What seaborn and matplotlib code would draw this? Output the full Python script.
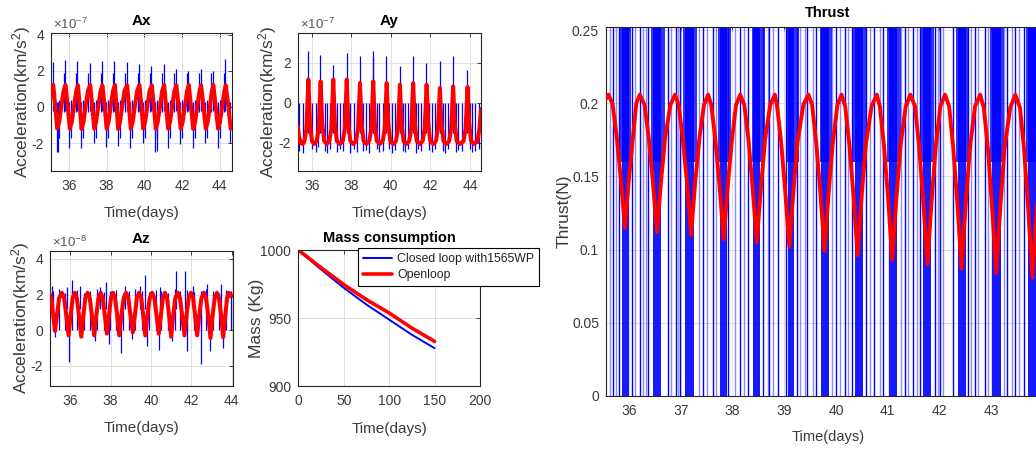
import numpy as np
import pandas as pd
import matplotlib
matplotlib.use("Agg")
import matplotlib.pyplot as plt
import seaborn as sns
from matplotlib import font_manager

# ============================ DATA ============================
# ---- Ax (units 1e-7 km/s^2) ----
ax_red_t = [35.05, 35.10, 35.17, 35.27, 35.38, 35.48, 35.60, 35.72,
            35.82, 35.93, 36.05, 36.15, 36.27, 36.39,
            36.48, 36.57, 36.67, 36.77, 36.89, 37.01,
            37.13, 37.23, 37.34, 37.44, 37.56, 37.68,
            37.78, 37.89, 38.00, 38.10, 38.22, 38.34,
            38.44, 38.52, 38.61, 38.71, 38.83, 38.95,
            39.09, 39.18, 39.28, 39.38, 39.50, 39.62,
            39.74, 39.84, 39.94, 40.04, 40.16, 40.28,
            40.40, 40.50, 40.61, 40.71, 40.83, 40.95,
            41.05, 41.15, 41.26, 41.36, 41.48, 41.60,
            41.70, 41.81, 41.93, 42.03, 42.15, 42.27,
            42.36, 42.47, 42.59, 42.69, 42.81, 42.93,
            43.01, 43.13, 43.26, 43.36, 43.48, 43.57,
            43.66, 43.78, 43.91, 44.01, 44.13, 44.25,
            44.32, 44.45, 44.58, 44.65]
ax_red_v = [0.55, 0.95, 1.22, 0.10, -1.20, -0.85, 0.05, 0.90,
            1.22, 0.10, -1.20, -0.85, 0.05, 0.90,
            1.20, 0.10, -1.22, -0.85, 0.05, 0.90,
            1.22, 0.10, -1.20, -0.85, 0.05, 0.90,
            1.20, 0.10, -1.20, -0.85, 0.05, 0.90,
            1.22, 0.10, -1.22, -0.85, 0.05, 0.90,
            1.20, 0.10, -1.20, -0.85, 0.05, 0.90,
            1.22, 0.10, -1.20, -0.85, 0.05, 0.90,
            1.20, 0.10, -1.22, -0.85, 0.05, 0.90,
            1.22, 0.10, -1.20, -0.85, 0.05, 0.90,
            1.20, 0.10, -1.20, -0.85, 0.05, 0.90,
            1.22, 0.10, -1.22, -0.85, 0.05, 0.90,
            1.20, 0.10, -1.20, -0.85, 0.05, 0.80,
            1.22, 0.10, -1.20, -0.85, 0.05, 0.90,
            1.20, 0.10, -1.20, -1.00]
ax_blue_t = [35.14, 35.79, 36.45, 37.10, 37.75, 38.41, 39.06, 39.71, 40.37, 41.02,
             41.67, 42.33, 42.98, 43.63, 44.29,
             35.36, 35.42, 36.03, 36.65, 37.32, 37.98, 38.59, 39.26, 39.92, 40.59,
             40.65, 41.24, 41.91, 42.57, 43.24, 43.89, 44.56,
             35.46, 36.13, 36.75, 37.42, 38.08, 38.69, 39.36, 40.02, 40.69, 41.34,
             42.01, 42.67, 43.34, 43.99,
             35.72, 36.38, 37.03, 37.68, 38.34, 38.99, 39.64, 40.30, 40.95, 41.60,
             42.26, 42.91, 43.56, 44.22]
ax_blue_lo = [-0.2] * 15 + \
             [-2.5, -2.5, -2.25, -2.3, -2.0, -2.2, -2.15, -2.25, -2.0, -2.5,
              -2.45, -2.25, -2.05, -2.3, -2.0, -2.25, -2.0] + \
             [-1.7] * 14 + [-0.3] * 14
ax_blue_hi = [2.5, 2.6, 2.55, 2.45, 2.55, 2.55, 2.5, 2.4, 2.25, 2.4, 2.1, 2.0, 2.1, 2.0, 2.65] + \
             [0.3] * 17 + [0.4] * 14 + [1.9] * 14

# ---- Ay (units 1e-7 km/s^2) ----
ay_red_t = [35.29, 35.36, 35.45, 35.55, 35.63, 35.73,
            35.83, 35.91, 36.01, 36.12, 36.25, 36.35,
            36.45, 36.53, 36.63, 36.76, 36.89, 36.99,
            37.09, 37.17, 37.27, 37.43, 37.57, 37.67,
            37.77, 37.85, 37.95, 38.10, 38.24, 38.34,
            38.44, 38.52, 38.62, 38.77, 38.91, 39.01,
            39.11, 39.19, 39.29, 39.45, 39.59, 39.69,
            39.79, 39.87, 39.97, 40.12, 40.26, 40.36,
            40.46, 40.54, 40.64, 40.79, 40.93, 41.03,
            41.13, 41.21, 41.31, 41.47, 41.61, 41.71,
            41.81, 41.89, 41.99, 42.14, 42.28, 42.38,
            42.48, 42.56, 42.66, 42.81, 42.95, 43.05,
            43.15, 43.23, 43.33, 43.50, 43.68, 43.78,
            43.88, 43.96, 44.06, 44.22, 44.38, 44.48, 44.56]
ay_red_v = [-1.15, -1.7, -2.0, -2.05, -1.9, -1.3,
            1.17, -1.0, -1.9, -2.05, -1.9, -1.3,
            1.08, -1.0, -1.9, -2.05, -1.9, -1.3,
            1.17, -1.0, -1.9, -2.05, -1.9, -1.3,
            1.17, -1.0, -1.9, -2.05, -1.9, -1.3,
            1.00, -1.0, -1.9, -2.05, -1.9, -1.3,
            1.08, -1.0, -1.9, -2.05, -1.9, -1.3,
            1.00, -1.0, -1.9, -2.05, -1.9, -1.3,
            0.92, -1.0, -1.9, -2.05, -1.9, -1.3,
            1.00, -1.0, -1.9, -2.05, -1.9, -1.3,
            0.92, -1.0, -1.9, -2.05, -1.9, -1.3,
            0.75, -1.0, -1.9, -2.05, -1.9, -1.3,
            0.83, -1.0, -1.9, -2.05, -1.9, -1.3,
            0.80, -1.0, -1.9, -2.05, -1.9, -1.3, -0.3]
ay_blue_t = [35.82, 36.44, 37.08, 37.76, 38.43, 39.10, 39.12, 39.78, 40.45, 41.12,
             41.80, 42.47, 43.14, 43.87,
             35.36, 35.58, 36.03, 36.20, 36.34, 36.67, 36.79, 36.93, 37.30, 37.43,
             37.60, 37.94, 38.14, 38.27, 38.61, 38.74, 38.90, 39.28, 39.42, 39.59,
             39.92, 40.04, 40.21, 40.60, 40.73, 40.88, 41.27, 41.39, 41.52, 41.94,
             42.06, 42.23, 42.62, 42.73, 42.90, 43.29, 43.41, 43.58, 44.00, 44.11,
             44.27, 44.47]
ay_blue_lo = [-1.5] * 14 + \
             [-2.4, -2.5, -2.3, -2.45, -2.2, -2.4, -2.5, -2.3, -2.45, -2.3,
              -2.4, -2.5, -2.3, -2.45, -2.4, -2.35, -2.5, -2.3, -2.45, -2.4,
              -2.3, -2.5, -2.35, -2.4, -2.45, -2.3, -2.5, -2.3, -2.4, -2.35,
              -2.45, -2.3, -2.4, -2.5, -2.3, -2.45, -2.35, -2.4, -2.3, -2.45,
              -2.4, -2.3]
ay_blue_hi = [2.58, 2.4, 1.9, 2.5, 2.33, 2.25, 2.58, 2.33, 1.83, 2.33, 2.0, 2.08, 2.33, 1.67] + \
             [0.0] * 42

# ---- Az (units 1e-8 km/s^2) ----
az_red_t = [35.00, 35.08, 35.17, 35.25, 35.33, 35.45,
            35.59, 35.70, 35.81, 35.92, 36.02, 36.12,
            36.23, 36.33, 36.44, 36.55, 36.65, 36.75,
            36.86, 36.97, 37.08, 37.19, 37.29, 37.40,
            37.51, 37.61, 37.72, 37.82, 37.92, 38.02,
            38.12, 38.22, 38.33, 38.43, 38.53, 38.65,
            38.77, 38.88, 38.99, 39.10, 39.20, 39.30,
            39.41, 39.52, 39.62, 39.72, 39.82, 39.94,
            40.06, 40.17, 40.28, 40.39, 40.49, 40.59,
            40.69, 40.80, 40.90, 41.00, 41.10, 41.21,
            41.33, 41.44, 41.55, 41.66, 41.76, 41.87,
            41.98, 42.09, 42.19, 42.29, 42.39, 42.50,
            42.62, 42.73, 42.84, 42.95, 43.05, 43.16,
            43.27, 43.37, 43.48, 43.58, 43.68, 43.77,
            43.86, 43.95, 44.05]
az_red_v = [2.00, 1.70, 0.70, -0.05, 0.70, 1.80,
            2.10, 1.80, 0.80, -0.30, 0.80, 1.80,
            2.10, 1.80, 0.80, -0.37, 0.80, 1.80,
            2.10, 1.80, 0.80, -0.30, 0.80, 1.80,
            2.10, 1.80, 0.80, -0.20, 0.80, 1.80,
            2.10, 1.80, 0.80, -0.30, 0.80, 1.80,
            2.10, 1.80, 0.80, -0.13, 0.80, 1.80,
            2.10, 1.80, 0.80, -0.30, 0.80, 1.80,
            2.10, 1.80, 0.80, -0.20, 0.80, 1.80,
            2.10, 1.80, 0.80, -0.37, 0.80, 1.80,
            2.10, 1.80, 0.80, -0.30, 0.80, 1.80,
            2.10, 1.80, 0.80, -0.30, 0.80, 1.80,
            2.10, 1.80, 0.80, -0.45, 0.80, 1.80,
            2.10, 1.80, 0.80, -0.40, 0.80, 1.80,
            2.10, 1.90, 1.95]
az_blue_t = [35.17, 35.47, 35.72, 36.08, 36.36, 36.66, 36.99, 37.32, 37.66, 37.99,
             38.28, 38.62, 38.90, 39.23, 39.57, 39.90, 40.23, 40.52, 40.85, 41.17,
             41.46, 41.79, 42.13, 42.46, 42.75, 43.09, 43.37, 43.70, 43.95,
             35.09, 35.83, 36.08, 36.50, 37.49, 37.79, 38.73, 39.48, 39.73, 40.44,
             41.26, 41.71, 42.09, 42.79, 43.45,
             35.25, 35.92, 36.50, 37.21, 37.90, 38.52, 39.06, 39.81, 40.39, 41.05,
             41.79, 42.46, 42.92, 43.58]
az_blue_lo = [0.0] * 29 + [1.2] * 15 + \
             [-0.4, -1.8, -0.4, -0.6, -0.8, -1.3, -0.5, -0.9, -1.1, -0.6, -1.2, -1.9, -1.2, -1.0]
az_blue_hi = [2.2, 2.3, 2.1, 2.2, 2.25, 2.1, 2.2, 2.3, 2.15, 2.2,
              2.25, 2.1, 2.2, 2.3, 2.2, 2.15, 2.25, 2.2, 2.1, 2.3,
              2.2, 2.25, 2.15, 2.2, 2.3, 2.2, 2.1, 2.25, 2.2] + \
             [2.5, 2.4, 2.8, 2.5, 2.4, 2.7, 2.5, 2.5, 3.1, 2.4, 3.3, 3.3, 2.5, 2.6, 2.6] + \
             [0.8] * 14

# ---- Mass consumption ----
mass_t = [0, 25, 50, 75, 100, 125, 150]
mass_closed = [1000, 985.7, 972.2, 959.9, 948.8, 937.7, 927.8]
mass_open = [1000, 987.0, 974.6, 963.5, 953.7, 942.6, 932.8]
mass_labels = ["Closed loop with1565WP", "Openloop"]

# ---- Thrust (N) ----
thr_red_t = [35.555, 35.60, 35.68, 35.76, 35.84, 35.92, 36.00, 36.08, 36.14,
             36.21, 36.30, 36.38, 36.46, 36.54, 36.62, 36.70, 36.80,
             36.89, 36.96, 37.04, 37.12, 37.20, 37.28, 37.36, 37.45,
             37.53, 37.59, 37.67, 37.75, 37.83, 37.91, 37.99, 38.07,
             38.15, 38.23, 38.31, 38.39, 38.47, 38.55, 38.63, 38.73,
             38.82, 38.86, 38.94, 39.02, 39.10, 39.18, 39.26, 39.37,
             39.47, 39.54, 39.62, 39.70, 39.78, 39.86, 39.94, 40.03,
             40.11, 40.18, 40.26, 40.34, 40.42, 40.50, 40.58, 40.69,
             40.79, 40.85, 40.93, 41.01, 41.09, 41.17, 41.25, 41.35,
             41.44, 41.53, 41.61, 41.69, 41.77, 41.85, 41.93, 42.02,
             42.11, 42.19, 42.27, 42.35, 42.43, 42.51, 42.59, 42.69,
             42.79, 42.86, 42.94, 43.02, 43.10, 43.18, 43.26, 43.37,
             43.47, 43.56, 43.64, 43.72, 43.80, 43.88, 43.96, 44.05, 44.13]
thr_red_v = [0.203, 0.206, 0.200, 0.178, 0.149, 0.115, 0.149, 0.178, 0.200,
             0.206, 0.199, 0.177, 0.147, 0.112, 0.147, 0.177, 0.199,
             0.206, 0.199, 0.176, 0.146, 0.110, 0.146, 0.176, 0.199,
             0.206, 0.199, 0.175, 0.144, 0.107, 0.144, 0.175, 0.199,
             0.206, 0.199, 0.175, 0.142, 0.105, 0.142, 0.175, 0.199,
             0.206, 0.199, 0.174, 0.140, 0.102, 0.140, 0.174, 0.199,
             0.206, 0.199, 0.173, 0.139, 0.099, 0.139, 0.173, 0.199,
             0.206, 0.198, 0.172, 0.137, 0.096, 0.137, 0.172, 0.198,
             0.206, 0.198, 0.171, 0.135, 0.093, 0.135, 0.171, 0.198,
             0.206, 0.198, 0.170, 0.133, 0.090, 0.133, 0.170, 0.198,
             0.206, 0.198, 0.169, 0.131, 0.087, 0.131, 0.169, 0.198,
             0.206, 0.197, 0.169, 0.129, 0.084, 0.129, 0.169, 0.197,
             0.206, 0.197, 0.168, 0.127, 0.081, 0.127, 0.168, 0.197, 0.206]
thr_line_t = [35.70, 35.81, 36.05, 36.21, 36.37, 36.75, 36.91, 36.99, 37.44, 37.62,
              37.92, 38.15, 38.31, 38.60, 38.71, 38.89, 39.04, 39.24, 39.44, 39.62,
              40.00, 40.18, 40.31, 40.58, 40.74, 40.92, 41.34, 41.50, 41.63, 41.92,
              42.02, 42.27, 42.56, 42.69, 42.89, 43.31, 43.47, 43.63]
thr_line_lo = [0.0] * 38
thr_line_hi = [0.26] * 38
thr_faint_t = [35.63, 35.75, 36.12, 36.27, 36.32, 36.82, 36.95, 37.35, 37.50, 37.68,
               38.05, 38.22, 38.68, 38.78, 39.30, 39.40, 39.56, 39.93, 40.07, 40.24,
               40.65, 40.85, 41.25, 41.40, 41.57, 41.97, 42.08, 42.62, 42.75, 42.95,
               43.25, 43.40, 43.55]
thr_faint_lo = [0.0] * 33
thr_faint_hi = [0.26] * 33
thr_blk_start = [35.87, 36.46, 37.08, 37.75, 38.39, 39.07, 39.72, 40.36, 41.02, 41.68, 42.36, 43.01, 43.71]
thr_blk_end = [36.00, 36.61, 37.26, 37.90, 38.54, 39.19, 39.86, 40.53, 41.19, 41.83, 42.51, 43.19, 43.88]
thr_top_start = [35.82, 36.43, 37.05, 37.73, 38.37, 39.04, 39.69, 40.33, 40.99, 41.65, 42.33, 42.98, 43.68]
thr_top_end = [36.04, 36.70, 37.31, 37.97, 38.63, 39.28, 39.93, 40.59, 41.25, 41.90, 42.57, 43.25, 43.94]
thr_top_lo = 0.16
thr_top_hi = 0.26

# ============================ STYLE ============================
sns.set_theme(style="white")

REG = "Liberation Sans"
try:
    font_manager.findfont(font_manager.FontProperties(family=REG), fallback_to_default=False)
except Exception:
    REG = "DejaVu Sans"
plt.rcParams["font.family"] = [REG, "DejaVu Sans"]
plt.rcParams["mathtext.fontset"] = "custom"
plt.rcParams["mathtext.rm"] = REG
plt.rcParams["mathtext.it"] = REG
plt.rcParams["mathtext.bf"] = REG + ":bold"
plt.rcParams["axes.unicode_minus"] = False

W, H = 1036, 449
fig = plt.figure(figsize=(W / 100, H / 100), dpi=100)
fig.patch.set_facecolor("white")


def rect(l, t, r, b):
    return [l / W, 1 - b / H, (r - l) / W, (b - t) / H]


ax1 = fig.add_axes(rect(51, 33, 232, 171))
ax2 = fig.add_axes(rect(297.7, 33, 481, 171))
ax3 = fig.add_axes(rect(50, 251, 232.7, 385.7))
ax4 = fig.add_axes(rect(298.3, 250, 480, 386))
ax5 = fig.add_axes(rect(606, 26.7, 1050, 395.7))

TXT = "#3a3a3a"
BLUE = "#0000ff"
RED = "#ff0000"
TICK_FS = 10
LBL_FS = 10.5
YLBL_FS = 12.5
TTL_FS = 10.5


def style(ax):
    ax.set_facecolor("white")
    for s in ax.spines.values():
        s.set_visible(True)
        s.set_color("#262626")
        s.set_linewidth(0.8)
    ax.tick_params(direction="in", length=3, width=0.6, top=True, right=True,
                   colors="#262626", labelcolor=TXT, labelsize=TICK_FS)
    ax.tick_params(axis="x", pad=6)
    ax.tick_params(axis="y", pad=5)
    ax.grid(True, color="#e0e0e0", lw=0.7)
    ax.set_axisbelow(True)


def accel_panel(ax, red_t, red_v, bt, blo, bhi, title, xlim, ylim, yticks, expo, ylx):
    ax.vlines(bt, blo, bhi, color=BLUE, lw=0.9, zorder=2)
    sns.lineplot(x=red_t, y=red_v, ax=ax, color=RED, lw=2.9, estimator=None, sort=False, zorder=3)
    ax.set_xlim(*xlim)
    ax.set_ylim(*ylim)
    ax.set_xticks([36, 38, 40, 42, 44])
    ax.set_yticks(yticks)
    ax.set_yticklabels([str(v) for v in yticks])
    style(ax)
    ax.set_title(title, fontsize=TTL_FS + 0.5, fontweight="bold", color="black", pad=6)
    ax.set_xlabel("Time(days)", fontsize=LBL_FS + 0.5, color=TXT)
    ax.set_ylabel("Acceleration(km/s$^{2}$)", fontsize=YLBL_FS, color=TXT)
    ax.yaxis.set_label_coords(ylx, 0.5)
    ax.text(0.01, 1.01, r"$\times10^{%d}$" % expo, transform=ax.transAxes,
            ha="left", va="bottom", fontsize=9.5, color="#555555")


accel_panel(ax1, ax_red_t, ax_red_v, ax_blue_t, ax_blue_lo, ax_blue_hi, "Ax",
            (35.05, 44.65), (-3.55, 4.1), [-2, 0, 2, 4], -7, -0.1)
accel_panel(ax2, ay_red_t, ay_red_v, ay_blue_t, ay_blue_lo, ay_blue_hi, "Ay",
            (35.29, 44.56), (-3.4, 3.5), [-2, 0, 2], -7, -0.1)
accel_panel(ax3, az_red_t, az_red_v, az_blue_t, az_blue_lo, az_blue_hi, "Az",
            (35.0, 44.05), (-3.13, 4.45), [-2, 0, 2, 4], -8, -0.1)
ax1.xaxis.set_label_coords(0.5, -0.255)
ax2.xaxis.set_label_coords(0.5, -0.255)
ax3.xaxis.set_label_coords(0.5, -0.265)

# Mass consumption
mass_df = pd.DataFrame({
    "t": mass_t * 2,
    "m": mass_closed + mass_open,
    "s": [mass_labels[0]] * len(mass_t) + [mass_labels[1]] * len(mass_t),
})
sns.lineplot(data=mass_df[mass_df.s == mass_labels[0]], x="t", y="m", ax=ax4, color=BLUE,
             lw=1.4, estimator=None, label=mass_labels[0])
sns.lineplot(data=mass_df[mass_df.s == mass_labels[1]], x="t", y="m", ax=ax4, color=RED,
             lw=2.6, estimator=None, label=mass_labels[1])
ax4.set_xlim(0, 200)
ax4.set_ylim(900, 1000)
ax4.set_xticks([0, 50, 100, 150, 200])
ax4.set_yticks([900, 950, 1000])
style(ax4)
ax4.set_title("Mass consumption", fontsize=TTL_FS, fontweight="bold", color="black", pad=6)
ax4.set_xlabel("Time(days)", fontsize=LBL_FS + 0.5, color=TXT)
ax4.set_ylabel("Mass (Kg)", fontsize=YLBL_FS, color=TXT)
ax4.xaxis.set_label_coords(0.5, -0.265)
ax4.yaxis.set_label_coords(-0.19, 0.5)
leg = ax4.legend(loc="upper left", bbox_to_anchor=(0.329, 1.015), borderaxespad=0,
                 fontsize=8.8, frameon=True, fancybox=False, handlelength=2.4,
                 handletextpad=0.4, borderpad=0.4, labelspacing=0.35)
leg.get_frame().set_edgecolor("black")
leg.get_frame().set_linewidth(0.8)
leg.get_frame().set_alpha(1)
for tx in leg.get_texts():
    tx.set_color("#222222")

# Thrust
for s0, s1 in zip(thr_top_start, thr_top_end):
    ax5.fill_between([s0, s1], thr_top_lo, thr_top_hi, color=BLUE, alpha=0.8, lw=0, zorder=2)
for s0, s1 in zip(thr_blk_start, thr_blk_end):
    ax5.fill_between([s0, s1], 0, 0.26, color=BLUE, alpha=0.9, lw=0, zorder=2)
ax5.vlines(thr_faint_t, thr_faint_lo, thr_faint_hi, color=BLUE, lw=1.0, alpha=0.45, zorder=2)
ax5.vlines(thr_line_t, thr_line_lo, thr_line_hi, color=BLUE, lw=1.0, zorder=2)
sns.lineplot(x=thr_red_t, y=thr_red_v, ax=ax5, color=RED, lw=2.8, estimator=None, sort=False, zorder=3)
ax5.set_xlim(35.555, 44.14)
ax5.set_ylim(0, 0.2525)
ax5.set_xticks([36, 37, 38, 39, 40, 41, 42, 43])
ax5.set_yticks([0, 0.05, 0.1, 0.15, 0.2, 0.25])
ax5.set_yticklabels(["0", "0.05", "0.1", "0.15", "0.2", "0.25"])
style(ax5)
ax5.set_title("Thrust", fontsize=TTL_FS, fontweight="bold", color="black", pad=7)
ax5.set_xlabel("Time(days)", fontsize=LBL_FS, color=TXT)
ax5.set_ylabel("Thrust(N)", fontsize=YLBL_FS, color=TXT)
ax5.xaxis.set_label_coords(0.5, -0.092)
ax5.yaxis.set_label_coords(-0.078, 0.5)

fig.savefig("out.png", dpi=100, facecolor="white")
